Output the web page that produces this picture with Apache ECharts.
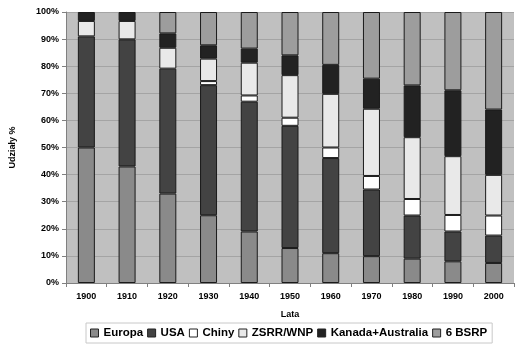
<!DOCTYPE html>
<html><head><meta charset="utf-8">
<script src="https://cdn.jsdelivr.net/npm/echarts@6/dist/echarts.min.js"></script>
<style>html,body{margin:0;padding:0;background:#fff}#c{width:521px;height:347px}</style>
</head><body><div id="c"></div>
<script>
const years = ['1900','1910','1920','1930','1940','1950','1960','1970','1980','1990','2000'];
const europa = [50, 43, 33, 25, 19, 12.9, 11, 9.9, 9, 8, 7.4];
const usa    = [41, 46.9, 46.1, 48, 47.9, 45.1, 35.1, 24.6, 15.9, 11, 10.1];
const chiny  = [0, 0, 0, 1.5, 2.3, 3, 3.9, 5, 6.1, 6.1, 7.4];
const zsrr   = [5.7, 6.8, 7.7, 8.3, 12.1, 15.7, 19.8, 24.8, 22.8, 21.7, 15];
const kanada = [3.3, 3.3, 5.3, 4.9, 5.2, 7.3, 10.7, 11.1, 19.1, 24.3, 24.1];
const bsrp   = [0, 0, 7.9, 12.3, 13.5, 16, 19.5, 24.6, 27.1, 28.9, 36];
const yTicks = ['0%','10%','20%','30%','40%','50%','60%','70%','80%','90%','100%'];

const names = ['Europa','USA','Chiny','ZSRR/WNP','Kanada+Australia','6 BSRP'];
const datas = [europa, usa, chiny, zsrr, kanada, bsrp];
const colors = ['#8a8a8a','#434343','#ffffff','#e9e9e9','#222222','#9d9d9d'];
const font = 'Arial, "Liberation Sans", sans-serif';

const chart = echarts.init(document.getElementById('c'), null, {renderer:'canvas'});
chart.setOption({
  animation:false,
  backgroundColor:'#ffffff',
  grid:{left:62, right:7, top:12, bottom:64, show:true, backgroundColor:'#c0c0c0', borderWidth:0},
  legend:{
    data:names, bottom:4, left:86, icon:'rect', itemWidth:8, itemHeight:8, itemGap:4,
    borderColor:'#c8c8c8', borderWidth:1, padding:[4,5,4,4],
    textStyle:{fontFamily:font, fontWeight:'bold', fontSize:11.5, color:'#000'},
    itemStyle:{borderColor:'#222', borderWidth:1}
  },
  xAxis:{
    type:'category', data:years, name:'Lata', nameLocation:'middle', nameGap:27,
    nameTextStyle:{fontFamily:font, fontWeight:'bold', fontSize:9, color:'#000'},
    axisLine:{lineStyle:{color:'#808080', width:1}},
    axisTick:{show:true, length:4, lineStyle:{color:'#808080'}},
    axisLabel:{fontFamily:font, fontWeight:'bold', fontSize:9, color:'#000', margin:9}
  },
  yAxis:{
    type:'value', min:0, max:100, interval:10,
    name:'Udziały %', nameLocation:'middle', nameGap:49, nameRotate:90,
    nameTextStyle:{fontFamily:font, fontWeight:'bold', fontSize:9, color:'#000'},
    axisLine:{show:true, lineStyle:{color:'#808080', width:1}},
    axisTick:{show:true, length:4, lineStyle:{color:'#808080'}},
    splitLine:{show:true, lineStyle:{color:'#a4a4a4', width:1}},
    axisLabel:{fontFamily:font, fontWeight:'bold', fontSize:9, color:'#000', margin:7,
      formatter:(v)=>yTicks[Math.round(v/10)]}
  },
  series: names.map((n,i)=>({
    name:n, type:'bar', stack:'s', barWidth:17,
    data: datas[i].map(v=> v===0 ? null : v),
    itemStyle:{color:colors[i], borderColor:'#1a1a1a', borderWidth:1}
  }))
});
</script></body></html>
